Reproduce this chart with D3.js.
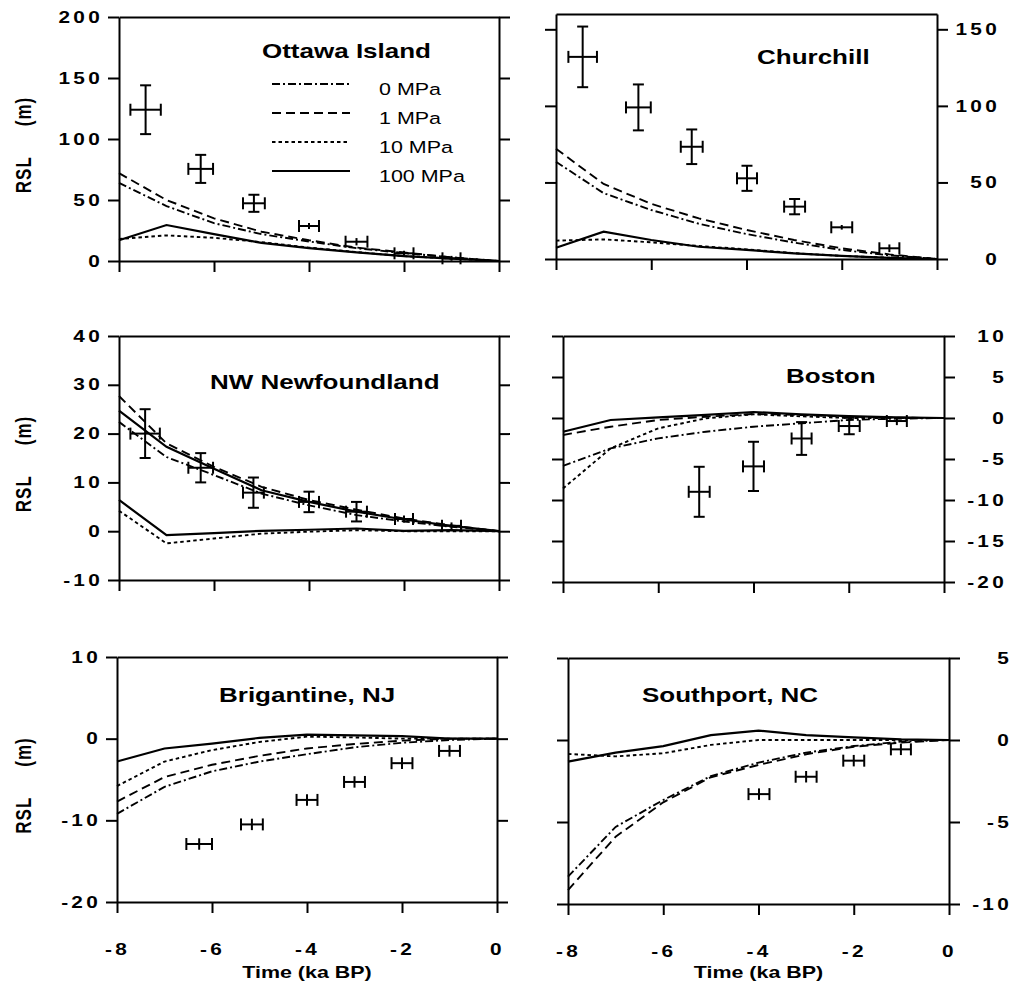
<!DOCTYPE html>
<html><head><meta charset="utf-8">
<script src="https://cdn.jsdelivr.net/npm/d3@7"></script>
<style>
body{margin:0;background:#fff}
svg{display:block}
text{font-family:Arial,"Liberation Sans",Helvetica,sans-serif;fill:#000}
</style>
</head><body>
<svg id="chart" width="1019" height="982"></svg>
<script>
// ---------------- DATA ----------------
const timeKa = [-8, -7, -6, -5, -4, -3, -2, -1, 0];
const modelNames = ["0 MPa", "1 MPa", "10 MPa", "100 MPa"];
const timeTicks = [-8, -6, -4, -2, 0];

// Ottawa Island
const ottawa0   = [64, 45, 31, 22, 16, 10.5, 6.5, 3, 0];
const ottawa1   = [72, 50, 35, 24, 17, 11, 7, 3, 0];
const ottawa10  = [18, 21, 19, 15.5, 11, 7.3, 4, 2, 0];
const ottawa100 = [17, 29.5, 22, 14.8, 10.5, 7, 4, 2, 0];
const ottawaObsT    = [-7.44, -6.28, -5.16, -4.0, -3.0, -2.0, -1.0];
const ottawaObsRSL  = [124, 75.5, 47.3, 28.7, 15.8, 6.3, 2.2];
const ottawaObsTErr = [0.32, 0.26, 0.23, 0.21, 0.23, 0.2, 0.19];
const ottawaObsRErr = [20, 11.5, 7, 2.5, 3, 2, 2];
const ottawaTicks = [0, 50, 100, 150, 200];

// Churchill
const churchill0   = [63.5, 43, 32, 23, 16.3, 10.7, 5.9, 2.4, 0];
const churchill1   = [72, 49, 36, 26.5, 19, 12.4, 7, 3, 0];
const churchill10  = [12, 12.8, 10.9, 8.5, 6.3, 3.8, 2, 0.8, 0];
const churchill100 = [7.4, 17.8, 12.4, 8, 5.9, 3.7, 2, 0.7, 0];
const churchillObsT    = [-7.44, -6.27, -5.15, -3.99, -2.99, -2.0, -1.0];
const churchillObsRSL  = [132, 99, 73.3, 52.7, 34.2, 20.7, 7];
const churchillObsTErr = [0.3, 0.26, 0.23, 0.21, 0.22, 0.22, 0.21];
const churchillObsRErr = [19.8, 15, 11.3, 8.2, 5, 1.5, 2.5];
const churchillTicks = [0, 50, 100, 150];

// NW Newfoundland
const newf0     = [22.4, 15.2, 11.5, 7.7, 5.3, 3.3, 2.0, 0.9, 0];
const newf1     = [27.7, 18, 13.2, 9.1, 6.4, 4.4, 2.6, 1.2, 0];
const newf10    = [4.2, -2.5, -1.5, -0.5, -0.1, 0.2, 0, 0, 0];
const newf100   = [6.4, -0.8, -0.4, 0.07, 0.3, 0.55, 0.07, 0.2, 0];
const newfUpper = [24.7, 17.3, 12.8, 8.4, 6.0, 4.0, 2.4, 1.1, 0];
const newfObsT    = [-7.45, -6.28, -5.17, -4.0, -3.0, -2.0, -1.0];
const newfObsRSL  = [20, 13, 7.9, 6.0, 4.0, 2.5, 1.1];
const newfObsTErr = [0.31, 0.26, 0.22, 0.21, 0.22, 0.19, 0.2];
const newfObsRErr = [5, 3, 3.1, 2.1, 2, 0.7, 0.7];
const newfTicks = [-10, 0, 10, 20, 30, 40];

// Boston
const boston0   = [-5.85, -3.7, -2.48, -1.67, -1.06, -0.65, -0.24, -0.08, 0];
const boston1   = [-2.07, -1.06, -0.24, 0.16, 0.49, 0.37, 0.16, 0.04, 0];
const boston10  = [-8.6, -3.7, -1.26, -0.04, 0.45, 0.2, 0, 0, 0];
const boston100 = [-1.67, -0.24, 0.08, 0.37, 0.73, 0.45, 0.24, 0.08, 0];
const bostonObsT    = [-5.14, -4.0, -2.99, -1.99, -0.99];
const bostonObsRSL  = [-9.0, -5.9, -2.5, -0.98, -0.37];
const bostonObsTErr = [0.22, 0.22, 0.21, 0.22, 0.21];
const bostonObsRErr = [3.05, 3, 2, 1, 0.5];
const bostonTicks = [-20, -15, -10, -5, 0, 5, 10];

// Brigantine, NJ
const brig0   = [-9.2, -5.9, -4.0, -2.8, -1.9, -1.06, -0.5, -0.16, 0];
const brig1   = [-7.7, -4.7, -3.2, -2.1, -1.2, -0.65, -0.24, 0, 0];
const brig10  = [-5.8, -2.8, -1.4, -0.4, 0.25, 0.15, 0, 0, 0];
const brig100 = [-2.8, -1.2, -0.6, 0.1, 0.5, 0.4, 0.3, 0, 0];
const brigObsT    = [-6.27, -5.16, -4.0, -3.0, -2.0, -1.0];
const brigObsRSL  = [-12.9, -10.5, -7.5, -5.3, -3.0, -1.5];
const brigObsTErr = [0.27, 0.23, 0.22, 0.22, 0.22, 0.22];
const brigObsRErr = [0.7, 0.7, 0.7, 0.7, 0.7, 0.7];
const brigTicks = [-20, -10, 0, 10];

// Southport, NC
const south0   = [-8.33, -5.3, -3.66, -2.2, -1.38, -0.77, -0.37, -0.1, 0];
const south1   = [-9.15, -5.9, -3.8, -2.27, -1.52, -0.87, -0.41, -0.16, 0];
const south10  = [-0.85, -1.0, -0.81, -0.3, 0, 0, 0, 0, 0];
const south100 = [-1.32, -0.77, -0.37, 0.3, 0.57, 0.3, 0.16, 0.04, 0];
const southObsT    = [-3.99, -3.0, -2.0, -1.01];
const southObsRSL  = [-3.3, -2.24, -1.26, -0.57];
const southObsTErr = [0.22, 0.22, 0.22, 0.21];
const southObsRErr = [0.35, 0.35, 0.35, 0.35];
const southTicks = [-10, -5, 0, 5];

// ---------------- STYLE / LAYOUT ----------------
const dashes = {"0 MPa": "8,3,2,3", "1 MPa": "9,5", "10 MPa": "3.5,3", "100 MPa": null};
const SX = 1.3;            // horizontal stretch of all text
const TICK = 11;
const fmt = d => String(d); // plain hyphen-minus like the original

const panels = [
  {title: "Ottawa Island", models: [ottawa0, ottawa1, ottawa10, ottawa100], extra: null,
   obs: [ottawaObsT, ottawaObsRSL, ottawaObsTErr, ottawaObsRErr],
   box: [119, 499, 17, 261], yDomain: [0, 200], yTicks: ottawaTicks, side: "left",
   titlePos: [262, 58], legend: true, xLabels: false},
  {title: "Churchill", models: [churchill0, churchill1, churchill10, churchill100], extra: null,
   obs: [churchillObsT, churchillObsRSL, churchillObsTErr, churchillObsRErr],
   box: [556, 937, 14, 259], yDomain: [0, 160], yTicks: churchillTicks, side: "right",
   titlePos: [757, 64], legend: false, xLabels: false},
  {title: "NW Newfoundland", models: [newf0, newf1, newf10, newf100], extra: newfUpper,
   obs: [newfObsT, newfObsRSL, newfObsTErr, newfObsRErr],
   box: [119, 499, 336, 580], yDomain: [-10, 40], yTicks: newfTicks, side: "left",
   titlePos: [210, 389], legend: false, xLabels: false},
  {title: "Boston", models: [boston0, boston1, boston10, boston100], extra: null,
   obs: [bostonObsT, bostonObsRSL, bostonObsTErr, bostonObsRErr],
   box: [563, 944, 336, 582], yDomain: [-20, 10], yTicks: bostonTicks, side: "right",
   titlePos: [786, 383], legend: false, xLabels: false},
  {title: "Brigantine, NJ", models: [brig0, brig1, brig10, brig100], extra: null,
   obs: [brigObsT, brigObsRSL, brigObsTErr, brigObsRErr],
   box: [117, 497, 657, 902], yDomain: [-20, 10], yTicks: brigTicks, side: "left",
   titlePos: [219, 702], legend: false, xLabels: true},
  {title: "Southport, NC", models: [south0, south1, south10, south100], extra: null,
   obs: [southObsT, southObsRSL, southObsTErr, southObsRErr],
   box: [568, 949, 658, 904], yDomain: [-10, 5], yTicks: southTicks, side: "right",
   titlePos: [642, 702], legend: false, xLabels: true}
];

const svg = d3.select("#chart");
svg.append("rect").attr("width", 1019).attr("height", 982).attr("fill", "#fff");

function stretch(sel) {
  sel.selectAll(".tick text").each(function () {
    const t = d3.select(this);
    const x = +t.attr("x") || 0, y = +t.attr("y") || 0;
    t.attr("x", null).attr("y", null)
     .attr("transform", `translate(${x},${y}) scale(${SX},1)`);
  });
}
function styleAxis(g) {
  g.select(".domain").attr("stroke", "#000").attr("stroke-width", 2);
  g.selectAll(".tick line").attr("stroke", "#000").attr("stroke-width", 2);
  g.selectAll(".tick text").attr("font-size", 16).attr("font-weight", "bold")
    .attr("letter-spacing", "2.5px").attr("fill", "#000");
}

panels.forEach(p => {
  const [x0, x1, y0, y1] = p.box;
  const x = d3.scaleLinear().domain([-8, 0]).range([x0, x1]);
  const y = d3.scaleLinear().domain(p.yDomain).range([y1, y0]);
  const g = svg.append("g");

  // model curves
  const line = d3.line().x((d, i) => x(timeKa[i])).y(d => y(d));
  const series = p.models.map((vals, k) => ({name: modelNames[k], vals}));
  if (p.extra) series.push({name: "100 MPa", vals: p.extra});
  series.forEach(s => {
    g.append("path").datum(s.vals).attr("d", line)
      .attr("fill", "none").attr("stroke", "#000")
      .attr("stroke-width", s.name === "100 MPa" ? 2.2 : 1.9)
      .attr("stroke-dasharray", dashes[s.name]);
  });

  // observations with error bars
  const [ot, orsl, ote, ore] = p.obs;
  const obs = ot.map((t, i) => ({t, r: orsl[i], te: ote[i], re: ore[i]}));
  const eb = g.append("g").attr("stroke", "#000").attr("stroke-width", 2).attr("fill", "none");
  obs.forEach(o => {
    const cx = x(o.t), cy = y(o.r);
    const xl = x(o.t - o.te), xr = x(o.t + o.te);
    const yt = y(o.r + o.re), yb = y(o.r - o.re);
    eb.append("line").attr("x1", xl).attr("x2", xr).attr("y1", cy).attr("y2", cy);
    eb.append("line").attr("x1", xl).attr("x2", xl).attr("y1", cy - 6).attr("y2", cy + 6);
    eb.append("line").attr("x1", xr).attr("x2", xr).attr("y1", cy - 6).attr("y2", cy + 6);
    eb.append("line").attr("x1", cx).attr("x2", cx).attr("y1", yt).attr("y2", yb);
    if ((yb - yt) / 2 > 6.5) {
      eb.append("line").attr("x1", cx - 5.5).attr("x2", cx + 5.5).attr("y1", yt).attr("y2", yt);
      eb.append("line").attr("x1", cx - 5.5).attr("x2", cx + 5.5).attr("y1", yb).attr("y2", yb);
    }
  });

  // axes
  const left = d3.axisLeft(y).tickValues(p.yTicks).tickSize(TICK).tickSizeOuter(0).tickPadding(5)
    .tickFormat(p.side === "left" ? fmt : "");
  const right = d3.axisRight(y).tickValues(p.yTicks).tickSize(TICK).tickSizeOuter(0)
    .tickFormat(p.side === "right" ? fmt : "");
  const gl = g.append("g").attr("transform", `translate(${x0},0)`).call(left);
  const gr = g.append("g").attr("transform", `translate(${x1},0)`).call(right);
  const bottom = d3.axisBottom(x).tickValues(timeTicks).tickSize(TICK).tickSizeOuter(0).tickPadding(31)
    .tickFormat(p.xLabels ? fmt : "");
  const gb = g.append("g").attr("transform", `translate(0,${y1})`).call(bottom);
  const top = d3.axisTop(x).tickValues([]).tickSizeOuter(0);
  const gt = g.append("g").attr("transform", `translate(0,${y0})`).call(top);
  [gl, gr, gb, gt].forEach(styleAxis);
  gr.selectAll(".tick text").attr("text-anchor", "end").attr("x", 63);
  [gl, gr, gb].forEach(stretch);
  [gl, gr, gb, gt].forEach(a => a.attr("font-family", null));

  // title
  g.append("text").attr("transform", `translate(${p.titlePos[0]},${p.titlePos[1]}) scale(${SX},1)`)
    .attr("font-size", 20).attr("font-weight", "bold").text(p.title);

  // y axis title
  if (p.side === "left") {
    const cy = (y0 + y1) / 2 + 6;
    const t = g.append("text")
      .attr("transform", `translate(31,${cy}) scale(${SX},1) rotate(-90)`)
      .attr("text-anchor", "middle").attr("font-size", 17).attr("font-weight", "bold")
      .attr("letter-spacing", "1px");
    t.append("tspan").text("RSL");
    t.append("tspan").attr("dx", 30).text("(m)");
  }
  // x axis title
  if (p.xLabels) {
    g.append("text")
      .attr("transform", `translate(${(x0 + x1) / 2},978) scale(${SX},1)`)
      .attr("text-anchor", "middle").attr("font-size", 16.5).attr("font-weight", "bold")
      .text("Time (ka BP)");
  }

  // legend
  if (p.legend) {
    const lg = g.append("g");
    modelNames.forEach((n, i) => {
      const ly = 84 + i * 29;
      lg.append("line").attr("x1", 272).attr("x2", 350).attr("y1", ly).attr("y2", ly)
        .attr("stroke", "#000").attr("stroke-width", n === "100 MPa" ? 2.2 : 1.9)
        .attr("stroke-dasharray", dashes[n]);
      lg.append("text").attr("transform", `translate(379,${ly + 11}) scale(${SX},1)`)
        .attr("font-size", 16.5).text(n);
    });
  }
});
</script>
</body></html>
